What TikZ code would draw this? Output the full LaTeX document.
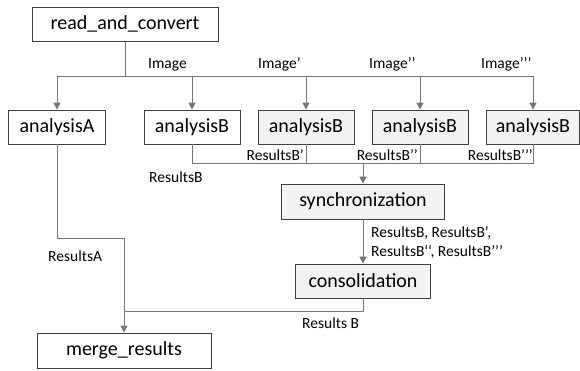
\documentclass[tikz,border=0pt]{standalone}
\usepackage{fontspec}
\setmainfont{Carlito}
\usetikzlibrary{arrows.meta}
\definecolor{boxline}{HTML}{404040}
\definecolor{wirec}{HTML}{777777}
\definecolor{gfill}{HTML}{F2F2F2}
\tikzset{
  procbox/.style={draw=boxline, line width=0.8pt, inner sep=0pt, fill=white,
    font=\fontsize{20}{24}\selectfont},
  grbox/.style={procbox, fill=gfill},
  wire/.style={draw=wirec, line width=0.9pt},
  flow/.style={wire, -{Triangle[width=7pt,length=7pt]}},
  lbl/.style={inner sep=0pt, font=\fontsize{15.5}{19}\selectfont}
}
\begin{document}
\begin{tikzpicture}[x=1pt,y=-1pt]
\useasboundingbox (0,0) rectangle (580,370);

% boxes
\node[procbox, minimum width=186pt, minimum height=34pt] (rc) at (125,24) {read\_and\_convert};
\node[procbox, minimum width=97pt, minimum height=34pt] (aA) at (57,127) {analysisA};
\node[procbox, minimum width=96pt, minimum height=34pt] (aB1) at (192,127) {analysisB};
\node[grbox, minimum width=96pt, minimum height=34pt] (aB2) at (306,127) {analysisB};
\node[grbox, minimum width=96pt, minimum height=34pt] (aB3) at (420,127) {analysisB};
\node[grbox, minimum width=93pt, minimum height=34pt] (aB4) at (533,127) {analysisB};
\node[grbox, minimum width=163pt, minimum height=35pt] (sync) at (363,201.5) {synchronization};
\node[grbox, minimum width=135pt, minimum height=34pt] (cons) at (363,281) {consolidation};
\node[procbox, minimum width=174pt, minimum height=35pt] (merge) at (124,350.5) {merge\_results};

% distribution of images
\coordinate (bus) at (125,76);
\draw[wire] (rc.south) -- (bus);
\foreach \n in {aA,aB1,aB2,aB3,aB4} \draw[flow] (bus) -| (\n.north);

% collection of partial results
\coordinate (rb) at (363,163);
\draw[wire] (aB1.south) |- (rb);
\draw[wire] (aB4.south) |- (rb);
\draw[wire] (aB2.south) -- (aB2.south |- rb);
\draw[wire] (aB3.south) -- (aB3.south |- rb);
\draw[flow] (rb) -- (sync.north);
\draw[flow] (sync.south) -- (cons.north);

% merging
\coordinate (ak) at (57,238);
\coordinate (mj) at (124,311);
\draw[flow] (aA.south) -- (ak) -| (merge.north);
\draw[wire] (cons.south) |- (mj);

% labels
\node[lbl, anchor=base west] (l1) at (148,68) {Image};
\node[lbl, anchor=base west] (l2) at (258,68) {Image’};
\node[lbl, anchor=base west] (l3) at (369,68) {Image’’};
\node[lbl, anchor=base west] (l4) at (481,68) {Image’’’};
\node[lbl, anchor=base east] (r2) at (304,160) {ResultsB’};
\node[lbl, anchor=base east] (r3) at (418,160) {ResultsB’’};
\node[lbl, anchor=base east] (r4) at (533,160) {ResultsB’’’};
\node[lbl, anchor=base west] (r1) at (149,182) {ResultsB};
\node[lbl, anchor=base west] (ra) at (48,261) {ResultsA};
\node[lbl, anchor=base west] (s1) at (371,237) {ResultsB, ResultsB’,};
\node[lbl, anchor=base west] (s2) at (371,256) {ResultsB\symbol{96}\symbol{96}, ResultsB’’’};
\node[lbl, anchor=base west] (rr) at (302,328) {Results B};
\end{tikzpicture}
\end{document}
